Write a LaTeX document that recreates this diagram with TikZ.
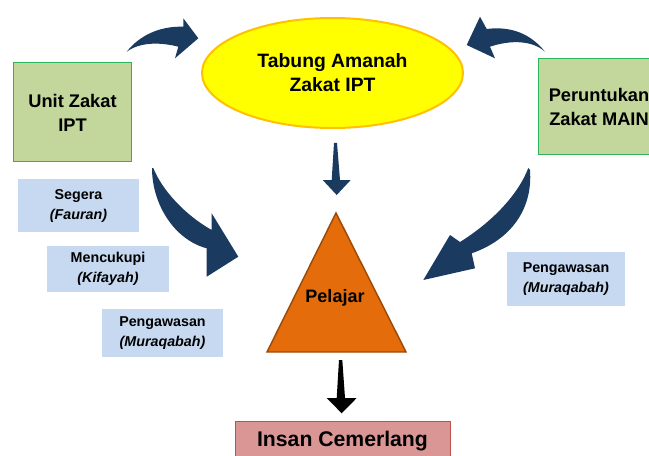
\documentclass[tikz,border=0pt]{standalone}
\usepackage{fontspec}
\setmainfont{Liberation Sans}
\usetikzlibrary{shapes.geometric}
\definecolor{navy}{HTML}{1B3A5F}
\definecolor{tabungfill}{HTML}{FFFF00}
\definecolor{tabungline}{HTML}{FFC000}
\definecolor{zakatfill}{HTML}{C3D69B}
\definecolor{zakatline}{HTML}{2DB35A}
\definecolor{infofill}{HTML}{C6D9F1}
\definecolor{pelajarfill}{HTML}{E46C0A}
\definecolor{pelajarline}{HTML}{9C4A08}
\definecolor{insanfill}{HTML}{D99694}
\definecolor{insanline}{HTML}{C0504D}

\begin{document}
\begin{tikzpicture}[x=0.75pt, y=-0.75pt,
  big/.style = {font=\fontsize{13.7}{18}\selectfont\bfseries, align=center},
  tabung/.style = {draw=tabungline, fill=tabungfill, line width=1.5pt, ellipse, inner sep=0pt,
    font=\fontsize{14.5}{18}\selectfont\bfseries, align=center},
  zakat/.style = {big, draw=zakatline, fill=zakatfill, line width=0.75pt, inner sep=0pt},
  info/.style = {font=\fontsize{10.7}{15}\selectfont\bfseries, align=center, fill=infofill, inner sep=0pt},
  blockarrow/.style = {fill=navy}]
\useasboundingbox (0,0) rectangle (649,456);
\clip (0,0) rectangle (649,456);

\node[tabung, minimum width=195.75pt, minimum height=82.5pt] (tabung) at (332.5,73) {Tabung Amanah\\Zakat IPT};
\node[zakat, minimum width=88.5pt, minimum height=74.25pt] (unit) at (72.5,112.5) {Unit Zakat\\IPT};
\node[zakat, minimum width=91.5pt, minimum height=72pt] (main) at (599,107) {Peruntukan\\Zakat MAIN};

\node[info, minimum width=90.75pt, minimum height=39.75pt] (segera) at (78.5,205.5) {Segera\\\textit{(Fauran)}};
\node[info, minimum width=91.5pt, minimum height=34.5pt] (cukup) at (108,269) {Mencukupi\\\textit{(Kifayah)}};
\node[info, minimum width=90.75pt, minimum height=36pt] (awas1) at (162.5,333) {Pengawasan\\\textit{(Muraqabah)}};
\node[info, minimum width=88.5pt, minimum height=40.5pt] (awas2) at (566,279) {Pengawasan\\\textit{(Muraqabah)}};

\draw[fill=pelajarfill, draw=pelajarline, line width=1.1pt] (336,213) -- (406,352) -- (267,352) -- cycle;
\node[big, font=\fontsize{13.5}{18}\selectfont\bfseries] (pelajar) at (335,298) {Pelajar};

\draw[fill=insanfill, draw=insanline, line width=0.75pt] (235,421) rectangle (450,475);
\node[font=\fontsize{15.9}{18}\selectfont\bfseries, anchor=base] (insan) at (342.5,446) {Insan Cemerlang};

\fill[blockarrow] (126.7,51.7) .. controls (140,35) and (160,26) .. (183.3,26.7) -- (183.3,18.3) -- (198.3,38.3)
  -- (175,58.3) -- (178.3,46.7) .. controls (160,42) and (140,42) .. (126.7,51.7) -- cycle;
\fill[blockarrow] (545,51.7) .. controls (530,33) and (510,26) .. (486.7,29) -- (480,16.7) -- (466.7,45)
  -- (495,58.3) -- (490,46.7) .. controls (510,40) and (532,40) .. (545,51.7) -- cycle;
\fill[blockarrow] (153.3,168) .. controls (162,190) and (185,215) .. (211.7,230) -- (211.7,213.3) -- (238.3,256.7)
  -- (206.7,276.7) -- (206.7,248.3) .. controls (175,240) and (152,205) .. (152,168) -- cycle;
\fill[blockarrow] (528.3,168) .. controls (518,195) and (492,222) .. (460,242) -- (450,235) -- (423.3,280)
  -- (475,268.3) -- (471.7,253.3) .. controls (510,240) and (533,210) .. (530,170) -- cycle;
\fill[blockarrow] (334,143) -- (337,143) -- (340,180) -- (350.7,180) -- (336.7,195) -- (322.7,180) -- (331.7,180) -- cycle;
\fill[black] (339,360) -- (342.3,360) -- (345,398) -- (356.7,398) -- (341.7,413.3) -- (326.7,398) -- (336.7,398) -- cycle;
\end{tikzpicture}
\end{document}
